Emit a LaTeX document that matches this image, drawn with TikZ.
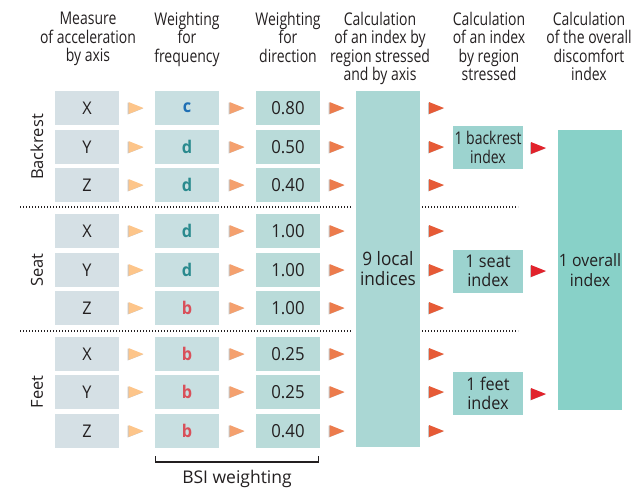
\documentclass[tikz,border=0pt]{standalone}
\usepackage{fontspec}
\setmainfont{Open Sans}[FakeStretch=0.8]
\newfontfamily\widefont{Open Sans}
\newfontfamily\midfont{Open Sans}[FakeStretch=0.93]
\definecolor{txt}{HTML}{231F20}
\definecolor{cA}{HTML}{D5E0E5}
\definecolor{cB}{HTML}{C8DFE1}
\definecolor{cC}{HTML}{B9DBD9}
\definecolor{cD}{HTML}{AAD7D4}
\definecolor{cE}{HTML}{9CD3CF}
\definecolor{cF}{HTML}{88D1C8}
\definecolor{tA}{HTML}{FDC58A}
\definecolor{tB}{HTML}{F4A06E}
\definecolor{tC}{HTML}{EC7B4C}
\definecolor{tD}{HTML}{E65A36}
\definecolor{tE}{HTML}{E1232C}
\definecolor{lc}{HTML}{1F6FB4}
\definecolor{ld}{HTML}{2A8A8E}
\definecolor{lb}{HTML}{D9505A}
\newcommand\tri[3]{%
  \fill[black!22] (#1-8.5,#2-5.5) -- (#1+7,#2+0.5) -- (#1-8.5,#2+6.5) -- cycle;
  \fill[#3] (#1-7.5,#2-6) -- (#1+7.5,#2) -- (#1-7.5,#2+6) -- cycle;}
\begin{document}
\begin{tikzpicture}[x=1pt,y=-1pt,
  every node/.style={text=txt, inner sep=0pt, font=\fontsize{17.5}{18.5}\selectfont},
  box/.style={minimum width=64pt, minimum height=34pt, align=center},
  vbox/.style={box, font=\midfont\fontsize{17.5}{18.5}\selectfont},
  bigbox/.style={box, font=\midfont\fontsize{18.5}{20}\selectfont},
  hdr/.style={anchor=north, align=center},
  side/.style={rotate=90, font=\widefont\fontsize{16.5}{18}\selectfont},
  sep/.style={txt, line width=1.1pt, dash pattern=on 1pt off 2pt}]
\useasboundingbox (0,0) rectangle (631,488);
% headers
\node[hdr] (h1) at (88,12) {Measure\\of acceleration\\by axis};
\node[hdr] (h2) at (187,12) {Weighting\\for\\frequency};
\node[hdr] (h3) at (288,12) {Weighting\\for\\direction};
\node[hdr] (h4) at (380,12) {Calculation\\of an index by\\region stressed\\and by axis};
\node[hdr] (h5) at (489,12) {Calculation\\of an index\\by region\\stressed};
\node[hdr] (h6) at (589,12) {Calculation\\of the overall\\discomfort\\index};
% rows
\foreach \y/\a/\b/\bc/\c [count=\i] in {
  108/X/c/lc/0.80, 147/Y/d/ld/0.50, 185/Z/d/ld/0.40,
  231/X/d/ld/1.00, 270/Y/d/ld/1.00, 308/Z/b/lb/1.00,
  354/X/b/lb/0.25, 392/Y/b/lb/0.25, 431/Z/b/lb/0.40}{
  \node[vbox, fill=cA] (m\i) at (87,\y) {\a};
  \node[vbox, fill=cB, text=\bc, font=\midfont\fontsize{17.5}{18.5}\selectfont\bfseries] (f\i) at (187,\y) {\b};
  \node[vbox, fill=cC, font=\midfont\fontsize{18}{19}\selectfont] (d\i) at (288,\y) {\c};
  \tri{136}{\y}{tA}
  \tri{237}{\y}{tB}
  \tri{337}{\y}{tC}
  \tri{436.5}{\y}{tD}
}
% local indices
\node[bigbox, fill=cD, minimum height=356pt] (loc) at (388,269) {9 local\\indices};
% regional indices
\node[box, fill=cE, minimum width=70pt, minimum height=43pt] (rb) at (488,147.5) {1 backrest\\index};
\node[box, fill=cE, minimum width=70pt, minimum height=43pt, font=\midfont\fontsize{17.5}{18.5}\selectfont] (rs) at (488,271) {1 seat\\index};
\node[box, fill=cE, minimum width=70pt, minimum height=43pt, font=\midfont\fontsize{17.5}{18.5}\selectfont] (rf) at (488,393.5) {1 feet\\index};
\tri{538.5}{148}{tE}
\tri{538.5}{271}{tE}
\tri{538.5}{394}{tE}
% overall
\node[box, fill=cF, minimum height=280pt, font=\midfont\fontsize{17}{20}\selectfont] (ov) at (590,270) {1 overall\\index};
% side labels
\node[side] (sb) at (37,147) {Backrest};
\node[side] (ss) at (37,270) {Seat};
\node[side] (sf) at (37,392) {Feet};
% separators
\coordinate (s1a) at (20,207); \coordinate (s1b) at (352,207);
\coordinate (s1c) at (422,207); \coordinate (s1d) at (518,207);
\coordinate (s2a) at (20,331); \coordinate (s2b) at (352,331);
\coordinate (s2c) at (422,331); \coordinate (s2d) at (518,331);
\draw[sep] (s1a) -- (s1b); \draw[sep] (s1c) -- (s1d);
\draw[sep] (s2a) -- (s2b); \draw[sep] (s2c) -- (s2d);
% BSI bracket
\coordinate (ba) at (155.5,456); \coordinate (bb) at (318.5,456);
\draw[txt, line width=1.2pt] (ba) -- ++(0,6) -| (bb);
\node[font=\widefont\fontsize{17.5}{18.5}\selectfont] (bsi) at (237,479) {BSI weighting};
\end{tikzpicture}
\end{document}
